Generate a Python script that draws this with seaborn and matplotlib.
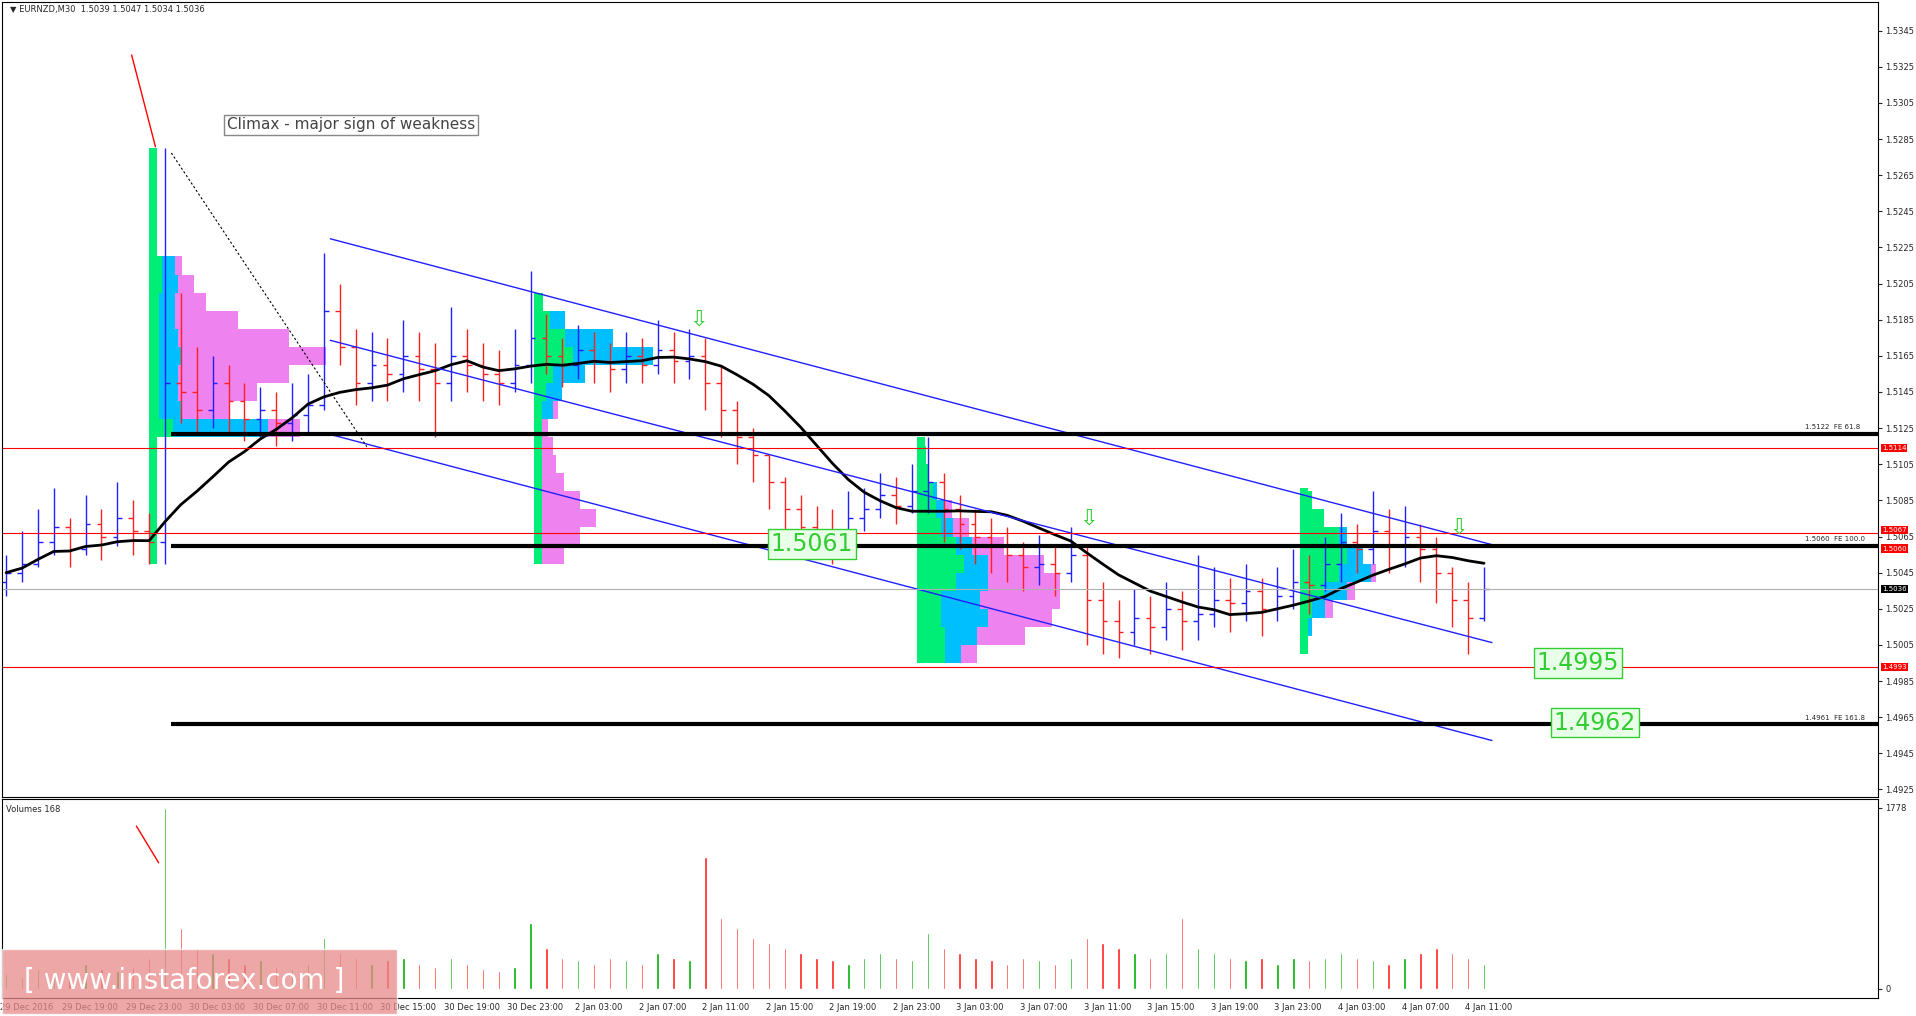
import matplotlib
matplotlib.use("Agg")
import matplotlib.pyplot as plt
import seaborn as sns
import numpy as np
import pandas as pd
from matplotlib.patches import Rectangle

####Data########################################################################
closes = [1.5045,1.5050,1.5062,1.5070,1.5058,1.5072,1.5065,1.5075,1.5068,1.5062,
          1.5150,
          1.5145,1.5135,1.5150,1.5140,1.5130,1.5135,1.5128,1.5132,1.5138,
          1.5190,1.5170,1.5150,1.5160,1.5155,1.5165,1.5158,1.5150,1.5165,1.5160,1.5155,1.5150,1.5160,
          1.5175,1.5165,1.5160,1.5168,1.5162,1.5158,1.5165,1.5160,1.5168,1.5162,1.5165,
          1.5150,1.5135,1.5120,1.5110,1.5095,1.5080,1.5070,
          1.5068,1.5062,1.5075,1.5080,1.5088,1.5082,1.5090,
          1.5095,
          1.5080,1.5072,1.5065,1.5060,1.5055,1.5048,1.5050,1.5045,1.5055,
          1.5030,1.5018,1.5012,1.5020,1.5015,1.5025,1.5018,1.5022,
          1.5030,1.5028,1.5035,1.5025,1.5032,1.5040,1.5038,
          1.5050,1.5062,1.5058,1.5068,1.5060,1.5065,1.5058,
          1.5045,1.5030,1.5020,1.5036]
highs = [1.5055,1.5068,1.5080,1.5092,1.5075,1.5088,1.5080,1.5095,1.5085,1.5078,
         1.5280,
         1.5200,1.5170,1.5165,1.5160,1.5150,1.5148,1.5145,1.5150,1.5155,
         1.5222,1.5205,1.5180,1.5178,1.5175,1.5185,1.5178,1.5172,1.5192,1.5180,1.5172,1.5168,1.5180,
         1.5212,1.5188,1.5175,1.5182,1.5178,1.5172,1.5178,1.5175,1.5185,1.5178,1.5180,
         1.5175,1.5160,1.5140,1.5125,1.5110,1.5098,1.5088,
         1.5082,1.5080,1.5090,1.5092,1.5100,1.5098,1.5105,
         1.5120,
         1.5100,1.5088,1.5080,1.5075,1.5070,1.5062,1.5066,1.5060,1.5070,
         1.5060,1.5040,1.5030,1.5036,1.5032,1.5040,1.5035,1.5055,
         1.5048,1.5042,1.5050,1.5042,1.5048,1.5058,1.5055,
         1.5065,1.5078,1.5072,1.5090,1.5080,1.5082,1.5072,
         1.5065,1.5048,1.5040,1.5048]
lows = [1.5032,1.5040,1.5048,1.5055,1.5048,1.5055,1.5052,1.5060,1.5055,1.5050,
        1.5050,
        1.5128,1.5122,1.5125,1.5122,1.5118,1.5120,1.5115,1.5118,1.5122,
        1.5135,1.5160,1.5138,1.5140,1.5140,1.5145,1.5140,1.5120,1.5140,1.5145,1.5140,1.5138,1.5145,
        1.5150,1.5155,1.5148,1.5152,1.5150,1.5145,1.5150,1.5150,1.5155,1.5150,1.5152,
        1.5135,1.5120,1.5105,1.5095,1.5080,1.5062,1.5055,
        1.5055,1.5050,1.5060,1.5068,1.5075,1.5072,1.5078,
        1.5078,
        1.5062,1.5058,1.5050,1.5045,1.5040,1.5035,1.5038,1.5032,1.5040,
        1.5005,1.5000,1.4998,1.5005,1.5000,1.5008,1.5002,1.5008,
        1.5015,1.5012,1.5018,1.5010,1.5018,1.5025,1.5022,
        1.5035,1.5040,1.5045,1.5050,1.5045,1.5048,1.5040,
        1.5028,1.5015,1.5000,1.5018]
volumes = [150,120,200,180,160,250,200,180,220,300,1778,600,400,350,300,250,280,220,200,250,
           500,350,300,250,280,300,250,220,300,250,200,180,220,
           650,400,300,280,250,300,280,250,350,300,280,
           1300,700,600,500,450,400,350,
           300,280,250,300,350,300,280,
           550,
           400,350,300,280,250,300,280,250,300,
           500,450,400,350,300,350,700,400,
           350,300,280,300,250,300,280,
           300,350,300,280,250,300,350,
           400,350,300,250]
first_open = 1.5040

time_labels = ["29 Dec 2016","29 Dec 19:00","29 Dec 23:00","30 Dec 03:00","30 Dec 07:00",
               "30 Dec 11:00","30 Dec 15:00","30 Dec 19:00","30 Dec 23:00","2 Jan 03:00",
               "2 Jan 07:00","2 Jan 11:00","2 Jan 15:00","2 Jan 19:00","2 Jan 23:00",
               "3 Jan 03:00","3 Jan 07:00","3 Jan 11:00","3 Jan 15:00","3 Jan 19:00",
               "3 Jan 23:00","4 Jan 03:00","4 Jan 07:00","4 Jan 11:00"]
price_ticks = [1.5345,1.5325,1.5305,1.5285,1.5265,1.5245,1.5225,1.5205,1.5185,1.5165,1.5145,
               1.5125,1.5105,1.5085,1.5065,1.5045,1.5025,1.5005,1.4985,1.4965,1.4945,1.4925]

# volume profiles: start bar, price levels, green / blue / pink lengths (bars)
prof_starts = [9.0, 33.2, 57.3, 81.4]
prof_levels = [
    [1.5125,1.5135,1.5145,1.5155,1.5165,1.5175,1.5185,1.5195,1.5205,1.5215],
    [1.5055,1.5065,1.5075,1.5085,1.5095,1.5105,1.5115,1.5125,1.5135,1.5145,1.5155,1.5165,1.5175,1.5185,1.5195],
    [1.5000,1.5010,1.5020,1.5030,1.5040,1.5050,1.5060,1.5070,1.5080,1.5090,1.5100,1.5110],
    [1.5005,1.5015,1.5025,1.5035,1.5045,1.5055,1.5065,1.5075,1.5085],
]
prof_green = [
    [1.5,0.6,0.6,0.6,0.6,0.6,0.6,0.6,0.8,0.8],
    [0.4,0.4,0.4,0.4,0.4,0.4,0.4,0.4,0.4,0.8,1.2,2.5,2.0,1.0,0.6],
    [1.8,1.8,1.5,1.5,2.5,3.0,2.5,1.5,1.2,1.0,0.8,0.6],
    [0.5,0.5,0.8,1.5,2.5,3.0,2.5,1.5,0.8],
]
prof_blue = [
    [6.0,1.5,1.2,1.2,1.5,1.2,1.0,1.0,1.0,0.8],
    [0.0,0.0,0.0,0.0,0.0,0.0,0.0,0.0,0.8,1.0,2.0,5.0,3.0,1.0,0.0],
    [1.0,2.0,3.0,2.5,2.0,1.5,1.0,0.8,0.5,0.3,0.0,0.0],
    [0.0,0.3,0.8,1.5,2.0,1.0,0.5,0.0,0.0],
]
prof_pink = [
    [2.0,3.0,5.0,7.0,9.0,7.0,4.0,2.0,1.0,0.5],
    [1.5,2.5,3.5,2.5,1.5,1.0,0.8,0.5,0.3,0.0,0.0,0.0,0.0,0.0,0.0],
    [1.0,3.0,4.0,5.0,4.5,3.5,2.0,1.0,0.5,0.0,0.0,0.0],
    [0.0,0.0,0.5,0.5,0.3,0.0,0.0,0.0,0.0],
]
prof_spikes = [(1.5050, 1.5280), (1.5050, 1.5200), (1.4995, 1.5120), (1.5005, 1.5092)]

hlines_black = [1.5122, 1.5060, 1.4961]
hline_labels = ["1.5122  FE 61.8", "1.5060  FE 100.0", "1.4961  FE 161.8"]
hlines_red = [1.5114, 1.5067, 1.4993]

# blue channel (bar index, price)
channels = [((20.4, 1.52298), (93.5, 1.50605)),
            ((20.4, 1.51736), (93.5, 1.50063)),
            ((20.4, 1.51215), (93.5, 1.49521))]

####Figure######################################################################
sns.set_style("white")
plt.rcParams['font.family'] = ['DejaVu Sans']
W, H = 1568, 830
fig = plt.figure(figsize=(19.16, 10.16), dpi=100)
ax = fig.add_axes([2 / W, 1 - 651 / H, 1535 / W, 649 / H])
axv = fig.add_axes([2 / W, 1 - 815 / H, 1535 / W, 162 / H])

n = len(closes)
idx = np.arange(n)
opens = [first_open] + closes[:-1]
df = pd.DataFrame({"i": idx, "open": opens, "high": highs, "low": lows,
                   "close": closes, "vol": volumes})
df["ma"] = df["close"].rolling(10, min_periods=1).mean()

# volume profiles (drawn under candles)
for s, lv, g, b, p, sp in zip(prof_starts, prof_levels, prof_green, prof_blue, prof_pink, prof_spikes):
    lv = np.array(lv); g = np.array(g); b = np.array(b); p = np.array(p)
    ax.barh(lv, g, left=s, height=0.001, color="#00ee76", linewidth=0)
    ax.barh(lv, b, left=s + g, height=0.001, color="#00bfff", linewidth=0)
    ax.barh(lv, p, left=s + g + b, height=0.001, color="#ee82ee", linewidth=0)
    ax.add_patch(Rectangle((s, sp[0]), 0.5, sp[1] - sp[0], color="#00ee76", lw=0))

# candles
for r in df.itertuples():
    c = "#1f1fff" if r.close >= r.open else "#ff2020"
    ax.vlines(r.i, r.low, r.high, color=c, lw=1)
    ax.hlines(r.open, r.i - 0.3, r.i, color=c, lw=1)
    ax.hlines(r.close, r.i, r.i + 0.3, color=c, lw=1)

sns.lineplot(data=df, x="i", y="ma", ax=ax, color="black", lw=2, legend=False)

for (x0, y0), (x1, y1) in channels:
    ax.plot([x0, x1], [y0, y1], color="#2020ff", lw=1)
ax.plot([10.4, 22.7], [1.52773, 1.51147], color="black", lw=0.8, ls=(0, (2, 2)))

for y, lab in zip(hlines_black, hline_labels):
    ax.hlines(y, 10.4, 118, color="black", lw=3)
    ax.text(113.2, y + 0.0002, lab, fontsize=5, va="bottom")
for y in hlines_red:
    ax.axhline(y, color="red", lw=0.8)
ax.axhline(closes[-1], color="#b0b0b0", lw=0.8)

ax.set_xlim(-0.23, 117.8)
ax.set_ylim(1.49209, 1.53606)
ax.yaxis.tick_right()
ax.set_yticks(price_ticks)
ax.set_yticklabels([f"{t:.4f}" for t in price_ticks], fontsize=6)
ax.set_xticks([])
ax.set_xlabel(""); ax.set_ylabel("")
ax.tick_params(axis="y", length=3, pad=2)

# price tags
tr = ax.get_yaxis_transform()
for y, va in [(1.5114, "center"), (1.5067, "bottom"), (1.5060, "top"), (1.4993, "center")]:
    ax.text(1.002, y, f"{y:.4f}", transform=tr, fontsize=5, color="white", va=va,
            bbox=dict(facecolor="red", edgecolor="none", pad=0.8))
ax.text(1.002, closes[-1], f"{closes[-1]:.4f}", transform=tr, fontsize=5, color="white",
        va="center", bbox=dict(facecolor="black", edgecolor="none", pad=0.8))

# annotations
ax.text(13.9, 1.52928, "Climax - major sign of weakness", fontsize=11, color="#444444",
        va="center", bbox=dict(facecolor="white", edgecolor="#888888", pad=2))
ax.plot([7.9, 9.4], [1.53315, 1.52807], color="red", lw=1)
box = dict(facecolor="#e8ffe8", edgecolor="#33cc33", pad=2)
ax.text(48.1, 1.5061, "1.5061", fontsize=17, color="#33cc33", va="center", bbox=box)
ax.text(96.3, 1.4995, "1.4995", fontsize=17, color="#33cc33", va="center", bbox=box)
ax.text(97.4, 1.4962, "1.4962", fontsize=17, color="#33cc33", va="center", bbox=box)
for ax_i, ay in [(43.6, 1.5185), (68.1, 1.5075), (91.4, 1.5070)]:
    ax.text(ax_i, ay, "⇩", fontsize=16, color="#33cc33", ha="center", va="center")
ax.text(0.004, 0.997, "▼ EURNZD,M30  1.5039 1.5047 1.5034 1.5036", transform=ax.transAxes,
        fontsize=6, va="top")

# volumes
vcol = np.where(df["close"] >= df["open"], "#00b000", "#ff2020")
axv.bar(df["i"], df["vol"], width=0.15, color=vcol)
axv.plot([8.2, 9.6], [1600, 1240], color="red", lw=1)
axv.set_xlim(-0.23, 117.8)
axv.set_ylim(-85, 1863)
axv.yaxis.tick_right()
axv.set_yticks([0, 1778])
axv.set_yticklabels(["0", "1778"], fontsize=6)
axv.set_xticks([1.3 + 4 * k for k in range(len(time_labels))])
axv.set_xticklabels(time_labels, fontsize=6)
axv.tick_params(axis="x", length=3, pad=1)
axv.tick_params(axis="y", length=3, pad=2)
axv.text(0.002, 0.97, "Volumes 168", transform=axv.transAxes, fontsize=6, va="top")

for a in (ax, axv):
    for sp in a.spines.values():
        sp.set_color("black"); sp.set_linewidth(0.8)

# watermark
fig.patches.append(Rectangle((2 / W, 1 - 828 / H), 323 / W, 53 / H, transform=fig.transFigure,
                             facecolor="#e88a8a", alpha=0.75, zorder=5))
fig.text(20 / W, 1 - 801 / H, "[ www.instaforex.com ]", fontsize=20, color="white",
         va="center", zorder=6)

fig.savefig("out.png", dpi=100, facecolor="white")
